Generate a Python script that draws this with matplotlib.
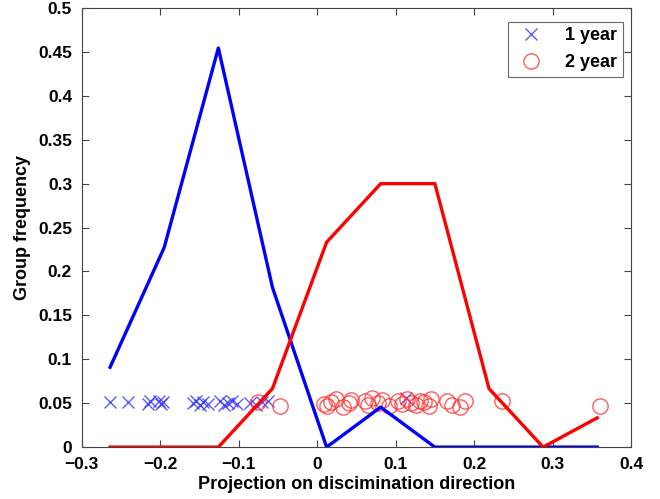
import matplotlib
matplotlib.use("Agg")
import matplotlib.pyplot as plt
from matplotlib.ticker import FuncFormatter

plt.rcParams['font.family'] = ['Liberation Sans', 'DejaVu Sans']
plt.rcParams['font.weight'] = 'bold'

# bin centers and group frequencies
bin_centers = [-0.264, -0.195, -0.126, -0.057, 0.012, 0.081, 0.150, 0.219, 0.288, 0.357]
freq_1year = [0.0909, 0.2273, 0.4545, 0.1818, 0.0, 0.0455, 0.0, 0.0, 0.0, 0.0]
freq_2year = [0.0, 0.0, 0.0, 0.0667, 0.2333, 0.3, 0.3, 0.0667, 0.0, 0.0333]

# individual projections (scatter)
x_1year = [-0.264, -0.241, -0.216, -0.213, -0.202, -0.199, -0.196,
           -0.158, -0.154, -0.150, -0.145, -0.139, -0.124, -0.119, -0.114, -0.109, -0.102,
           -0.085, -0.078, -0.070, -0.0625, 0.113]
y_1year = [0.051, 0.051, 0.049, 0.052, 0.053, 0.049, 0.051,
           0.050, 0.052, 0.048, 0.051, 0.049, 0.053, 0.048, 0.050, 0.052, 0.049,
           0.050, 0.048, 0.051, 0.052, 0.056]
x_2year = [-0.075, -0.047,
           0.009, 0.013, 0.018, 0.024, 0.033, 0.040, 0.043,
           0.061, 0.065, 0.070, 0.077, 0.083, 0.091, 0.103, 0.108, 0.114,
           0.120, 0.126, 0.131, 0.136, 0.142, 0.145, 0.165, 0.172, 0.182,
           0.189, 0.236, 0.361]
y_2year = [0.051, 0.047,
           0.049, 0.047, 0.051, 0.055, 0.046, 0.050, 0.054,
           0.052, 0.048, 0.056, 0.050, 0.054, 0.047, 0.052, 0.049, 0.055,
           0.050, 0.048, 0.053, 0.051, 0.047, 0.055, 0.052, 0.048, 0.046,
           0.052, 0.053, 0.047]

fig = plt.figure(figsize=(6.6, 4.99), dpi=100)
ax = fig.add_axes([0.124, 0.104, 0.832, 0.88])

ax.plot(x_1year, y_1year, linestyle='none', marker='x', color='#3333ff',
        markersize=8, markeredgewidth=1.0, alpha=0.8, label='1 year')
ax.plot(x_2year, y_2year, linestyle='none', marker='o', markerfacecolor='none',
        markeredgecolor='#ff3333', markersize=11, markeredgewidth=1.0, alpha=0.8, label='2 year')
ax.plot(bin_centers, freq_1year, color='#0000ff', linewidth=2.4)
ax.plot(bin_centers, freq_2year, color='#ff0000', linewidth=2.4)

ax.set_xlim(-0.3, 0.4)
ax.set_ylim(0, 0.5)
ax.set_xticks([-0.3, -0.2, -0.1, 0, 0.1, 0.2, 0.3, 0.4])
ax.set_yticks([0, 0.05, 0.1, 0.15, 0.2, 0.25, 0.3, 0.35, 0.4, 0.45, 0.5])
fmt = FuncFormatter(lambda v, p: ('%g' % round(v, 3)).replace('-', '\u2212'))
ax.xaxis.set_major_formatter(fmt)
ax.yaxis.set_major_formatter(fmt)
ax.tick_params(direction='in', top=True, right=True, length=5, width=0.8,
               labelsize=12.5, colors='#444444', labelcolor='black')
ax.tick_params(axis='x', pad=7)
ax.tick_params(axis='y', pad=7)
for lab in ax.get_xticklabels() + ax.get_yticklabels():
    lab.set_fontweight('bold')
for sp in ax.spines.values():
    sp.set_color('#444444')
    sp.set_linewidth(0.8)

ax.set_xlabel('Projection on discimination direction', fontsize=13, fontweight='bold', labelpad=3)
ax.set_ylabel('Group frequency', fontsize=13, fontweight='bold', labelpad=5)

leg = ax.legend(loc='upper right', fontsize=13, frameon=True, fancybox=False,
                edgecolor='#444444', borderpad=0.3, handletextpad=0.9,
                labelspacing=0.55, borderaxespad=0,
                bbox_to_anchor=(0.985, 0.968))
for t in leg.get_texts():
    t.set_fontweight('bold')
leg.get_frame().set_linewidth(0.8)

fig.savefig('out.png', dpi=100)
